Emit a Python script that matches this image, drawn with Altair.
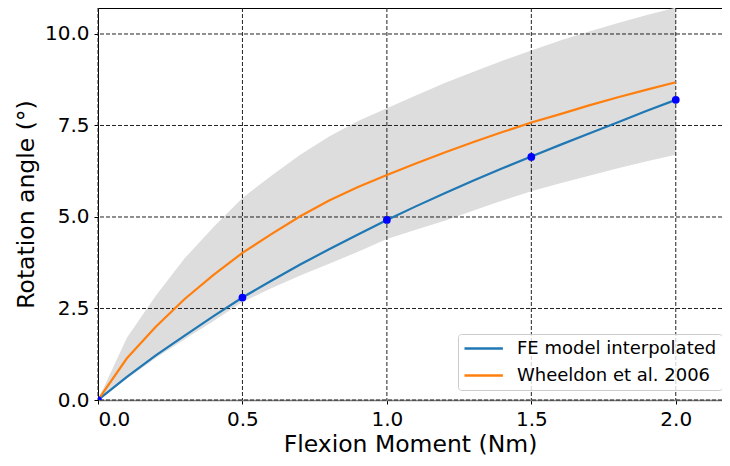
import altair as alt
import pandas as pd

moment = [0.0, 0.1, 0.2, 0.3, 0.4, 0.5, 0.6, 0.7, 0.8, 0.9, 1.0,
          1.1, 1.2, 1.3, 1.4, 1.5, 1.6, 1.7, 1.8, 1.9, 2.0]
fe_curve = [0.0, 0.63, 1.22, 1.76, 2.29, 2.80, 3.26, 3.70, 4.12, 4.52, 4.92,
            5.29, 5.65, 6.00, 6.33, 6.65, 6.97, 7.28, 7.59, 7.90, 8.20]
wheeldon = [0.0, 1.14, 2.00, 2.76, 3.42, 4.02, 4.53, 5.02, 5.45, 5.82, 6.15,
            6.46, 6.76, 7.05, 7.32, 7.58, 7.81, 8.05, 8.27, 8.48, 8.68]
band_upper = [0.0, 1.70, 2.85, 3.87, 4.73, 5.52, 6.13, 6.70, 7.20, 7.62, 7.97,
              8.32, 8.66, 8.97, 9.27, 9.55, 9.82, 10.07, 10.30, 10.52, 10.72]
band_lower = [0.0, 0.58, 1.15, 1.66, 2.16, 2.68, 3.05, 3.40, 3.72, 4.05, 4.40,
              4.65, 4.90, 5.18, 5.45, 5.70, 5.92, 6.13, 6.33, 6.52, 6.70]
fe_points_x = [0.0, 0.5, 1.0, 1.5, 2.0]
fe_points_y = [0.0, 2.80, 4.92, 6.64, 8.20]
x_ticks = [0.0, 0.5, 1.0, 1.5, 2.0]
y_ticks = [0.0, 2.5, 5.0, 7.5, 10.0]
series_names = ["FE model interpolated", "Wheeldon et al. 2006"]
series_colors = ["#1f77b4", "#ff7f0e"]

band_df = pd.DataFrame({"m": moment, "lo": band_lower, "hi": band_upper})
lines_df = pd.concat([
    pd.DataFrame({"m": moment, "angle": fe_curve, "series": series_names[0]}),
    pd.DataFrame({"m": moment, "angle": wheeldon, "series": series_names[1]}),
])
pts_df = pd.DataFrame({"m": fe_points_x, "angle": fe_points_y})
xg_df = pd.DataFrame({"v": x_ticks})
yg_df = pd.DataFrame({"v": y_ticks})

xs = alt.Scale(domain=[0, 2.16], nice=False, zero=False)
ys = alt.Scale(domain=[0, 10.71], nice=False, zero=False)
xax = alt.Axis(values=x_ticks, format=".1f", title="Flexion Moment (Nm)", grid=False)
yax = alt.Axis(values=y_ticks, format=".1f", title="Rotation angle (°)", grid=False)

band = alt.Chart(band_df).mark_area(color="#dddddd", opacity=1, clip=True).encode(
    x=alt.X("m:Q", scale=xs, axis=xax),
    y=alt.Y("lo:Q", scale=ys, axis=yax),
    y2="hi:Q",
)
grid_style = dict(color="#222222", strokeDash=[4, 2], strokeWidth=1)
vgrid = alt.Chart(xg_df).mark_rule(**grid_style).encode(x=alt.X("v:Q", scale=xs))
hgrid = alt.Chart(yg_df).mark_rule(**grid_style).encode(y=alt.Y("v:Q", scale=ys))

lines = alt.Chart(lines_df).mark_line(strokeWidth=2.2, clip=True).encode(
    x=alt.X("m:Q", scale=xs),
    y=alt.Y("angle:Q", scale=ys),
    color=alt.Color("series:N", scale=alt.Scale(domain=series_names, range=series_colors),
                    legend=alt.Legend(title=None)),
)
points = alt.Chart(pts_df).mark_circle(color="#0000ff", opacity=1, size=60, clip=True).encode(
    x=alt.X("m:Q", scale=xs),
    y=alt.Y("angle:Q", scale=ys),
)

chart = alt.layer(band, vgrid, hgrid, lines, points).properties(
    width=624, height=392,
    padding={"left": 90, "top": 0, "right": 0, "bottom": 58},
    autosize=alt.AutoSizeParams(type="none"),
).configure_view(stroke="black", strokeWidth=1).configure_axis(
    labelFont="DejaVu Sans", titleFont="DejaVu Sans",
    labelFontSize=20, titleFontSize=23.5, titleFontWeight="normal",
    labelColor="black", titleColor="black",
    tickColor="black", tickSize=4, labelPadding=5,
    domainColor="black", domainWidth=1,
).configure_axisX(
    domainColor="#808080", domainWidth=1.5, titlePadding=3,
).configure_axisY(
    titlePadding=6,
).configure_legend(
    orient="none", legendX=360, legendY=326,
    padding=5, strokeColor="#cccccc", fillColor="rgba(255,255,255,0.8)",
    cornerRadius=3, symbolType="M-1,0H3.8", symbolSize=256, symbolStrokeWidth=2.5,
    labelFont="DejaVu Sans", labelFontSize=18, labelColor="black", labelLimit=0,
    labelOffset=35, rowPadding=8,
)

chart.save("out.html", embed_options={"renderer": "svg", "actions": False})
